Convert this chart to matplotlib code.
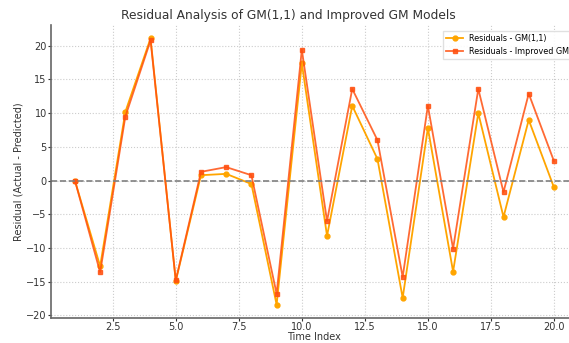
import numpy as np
import matplotlib
matplotlib.use("Agg")
import matplotlib.pyplot as plt

# Residuals
time_index = np.arange(1, 21)
resid_gm = [0.0, -12.7, 10.2, 21.1, -14.9, 0.8, 1.0, -0.5, -18.4, 17.4,
            -8.2, 11.1, 3.2, -17.4, 7.8, -13.5, 10.0, -5.4, 9.0, -1.0]
resid_improved = [0.0, -13.6, 9.5, 20.8, -14.8, 1.3, 2.0, 0.8, -16.8, 19.4,
                  -6.0, 13.6, 6.0, -14.3, 11.1, -10.1, 13.6, -1.7, 12.9, 2.9]

fig = plt.figure(figsize=(5.69, 3.43), dpi=100)
ax = fig.add_axes([0.0896, 0.073, 0.926, 0.854])

ax.plot(time_index, resid_gm, marker="o", markersize=3.5, linewidth=1.3,
        color="#FFA500", label="Residuals - GM(1,1)")
ax.plot(time_index, resid_improved, marker="s", markersize=3.5, linewidth=1.3,
        color="#FF5010", alpha=0.85, label="Residuals - Improved GM")
ax.axhline(0, color="gray", linestyle="--", linewidth=1.2)

ax.set_title("Residual Analysis of GM(1,1) and Improved GM Models",
             fontsize=8.8, color="#333333", pad=4, x=0.45)
ax.set_xlabel("Time Index", fontsize=7, color="#333333", labelpad=0)
ax.set_ylabel("Residual (Actual - Predicted)", fontsize=7, color="#333333", labelpad=2)

ax.grid(True, linestyle=":", color="#cccccc", linewidth=0.8)
ax.tick_params(labelsize=7, colors="#333333", length=2, pad=1)
for side in ["top", "right"]:
    ax.spines[side].set_visible(False)
for side in ["left", "bottom"]:
    ax.spines[side].set_color("#666666")
    ax.spines[side].set_linewidth(1.2)

ax.legend(loc="upper right", fontsize=5.8, framealpha=0.9, edgecolor="#dddddd",
          fancybox=False, handlelength=2.0, borderaxespad=0.7)

fig.savefig("out.png", dpi=100)
